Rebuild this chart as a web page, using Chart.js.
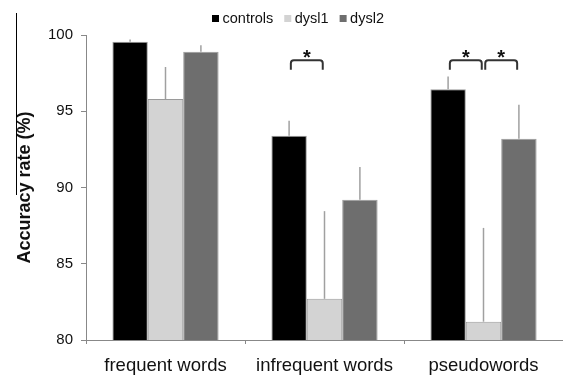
<!DOCTYPE html>
<html>
<head>
<meta charset="utf-8">
<script src="https://cdn.jsdelivr.net/npm/chart.js@4"></script>
<style>
  html, body { margin: 0; padding: 0; background: #fff; }
  canvas { display: block; }
</style>
</head>
<body>
<canvas id="chart" width="563" height="376"></canvas>
<script>
// Word-reading accuracy by group (mean % correct, upper error = SD)
const categories = ['frequent words', 'infrequent words', 'pseudowords'];
const groupNames = ['controls', 'dysl1', 'dysl2'];
const controls = [99.55, 93.4, 96.45];
const dysl1 = [95.8, 82.7, 81.2];
const dysl2 = [98.9, 89.2, 93.2];
const controlsErr = [0.15, 0.98, 0.83];
const dysl1Err = [2.1, 5.75, 6.15];
const dysl2Err = [0.42, 2.15, 2.22];
const yTicks = [80, 85, 90, 95, 100];
// significant pairwise differences: [category index, group a, group b]
const significance = [[1, 0, 1], [2, 0, 1], [2, 1, 2]];

const FONT = "'Liberation Sans', Arial, Helvetica, sans-serif";
const fills = ['#000000', '#d3d3d3', '#6e6e6e'];
const values = [controls, dysl1, dysl2];
const errors = [controlsErr, dysl1Err, dysl2Err];

// Upward-only error whiskers from each bar top
const errorBars = {
  id: 'errorBars',
  afterDatasetsDraw(chart) {
    const { ctx } = chart;
    const y = chart.scales.y;
    ctx.save();
    ctx.strokeStyle = '#a0a0a0';
    ctx.lineWidth = 1.5;
    chart.data.datasets.forEach((ds, i) => {
      const meta = chart.getDatasetMeta(i);
      meta.data.forEach((bar, j) => {
        const top = y.getPixelForValue(ds.data[j] + ds.errorUp[j]);
        ctx.beginPath();
        ctx.moveTo(bar.x, bar.y);
        ctx.lineTo(bar.x, top);
        ctx.stroke();
      });
    });
    ctx.restore();
  }
};

// Significance brackets with an asterisk above each
const sigBrackets = {
  id: 'sigBrackets',
  afterDraw(chart) {
    const { ctx } = chart;
    const y = chart.scales.y;
    const yTop = y.getPixelForValue(98.35);
    const yLeg = y.getPixelForValue(97.72);
    const yStar = y.getPixelForValue(98.88);
    const r = 3, inset = 1.75;
    ctx.save();
    ctx.strokeStyle = '#333';
    ctx.lineWidth = 2;
    ctx.fillStyle = '#111';
    ctx.font = 'bold 20px ' + FONT;
    ctx.textAlign = 'center';
    ctx.textBaseline = 'alphabetic';
    significance.forEach(([cat, a, b]) => {
      const x1 = chart.getDatasetMeta(a).data[cat].x + inset;
      const x2 = chart.getDatasetMeta(b).data[cat].x - inset;
      ctx.beginPath();
      ctx.moveTo(x1, yLeg);
      ctx.lineTo(x1, yTop + r);
      ctx.arcTo(x1, yTop, x1 + r, yTop, r);
      ctx.lineTo(x2 - r, yTop);
      ctx.arcTo(x2, yTop, x2, yTop + r, r);
      ctx.lineTo(x2, yLeg);
      ctx.stroke();
      ctx.fillText('*', (x1 + x2) / 2, yStar + 11.6);
    });
    ctx.restore();
  }
};

// Compact one-row legend with small square swatches
const legendRow = {
  id: 'legendRow',
  afterDraw(chart) {
    const { ctx } = chart;
    const box = 7, gap = 3.5, spacing = 11, cy = 18.5;
    let x = 212;
    ctx.save();
    ctx.font = '14.5px ' + FONT;
    ctx.textBaseline = 'middle';
    ctx.textAlign = 'left';
    chart.data.datasets.forEach(ds => {
      ctx.fillStyle = ds.backgroundColor;
      ctx.fillRect(x, cy - box / 2, box, box);
      ctx.fillStyle = '#111';
      ctx.fillText(ds.label, x + box + gap, cy + 0.5);
      x += box + gap + ctx.measureText(ds.label).width + spacing;
    });
    ctx.restore();
  }
};

// Thin rule along the left edge
const leftRule = {
  id: 'leftRule',
  afterDraw(chart) {
    const { ctx } = chart;
    ctx.save();
    ctx.strokeStyle = '#000';
    ctx.lineWidth = 1;
    ctx.beginPath();
    ctx.moveTo(16.5, 13);
    ctx.lineTo(16.5, 195);
    ctx.stroke();
    ctx.restore();
  }
};

new Chart(document.getElementById('chart'), {
  type: 'bar',
  data: {
    labels: categories,
    datasets: groupNames.map((name, i) => ({
      label: name,
      data: values[i],
      errorUp: errors[i],
      backgroundColor: fills[i],
      borderColor: '#9a9a9a',
      borderWidth: 1,
      borderSkipped: 'start',
      categoryPercentage: 0.668,
      barPercentage: 1.0
    }))
  },
  options: {
    responsive: false,
    animation: false,
    devicePixelRatio: 1,
    layout: { padding: { top: 35, left: 0, right: 0, bottom: 0 } },
    plugins: {
      legend: { display: false },
      tooltip: { enabled: false }
    },
    scales: {
      x: {
        afterFit(scale) { scale.height = 36; },
        grid: {
          display: true,
          drawOnChartArea: false,
          drawTicks: true,
          tickLength: 4,
          color: '#888',
          offset: true
        },
        border: { display: true, color: '#888', width: 1 },
        ticks: {
          color: '#111',
          padding: 11,
          font: { family: FONT, size: 18.5 }
        }
      },
      y: {
        min: 80,
        max: 100,
        afterBuildTicks(scale) {
          scale.ticks = yTicks.map(v => ({ value: v }));
        },
        afterFit(scale) { scale.width = 86; },
        grid: {
          display: true,
          drawOnChartArea: false,
          drawTicks: true,
          tickLength: 5,
          color: '#888'
        },
        border: { display: true, color: '#888', width: 1 },
        ticks: {
          color: '#111',
          padding: 8,
          font: { family: FONT, size: 15 }
        },
        title: {
          display: true,
          text: 'Accuracy rate (%)',
          color: '#111',
          font: { family: FONT, size: 18, weight: 'bold' },
          padding: { top: 14.7, bottom: 0 }
        }
      }
    }
  },
  plugins: [errorBars, sigBrackets, legendRow, leftRule]
});
</script>
</body>
</html>
